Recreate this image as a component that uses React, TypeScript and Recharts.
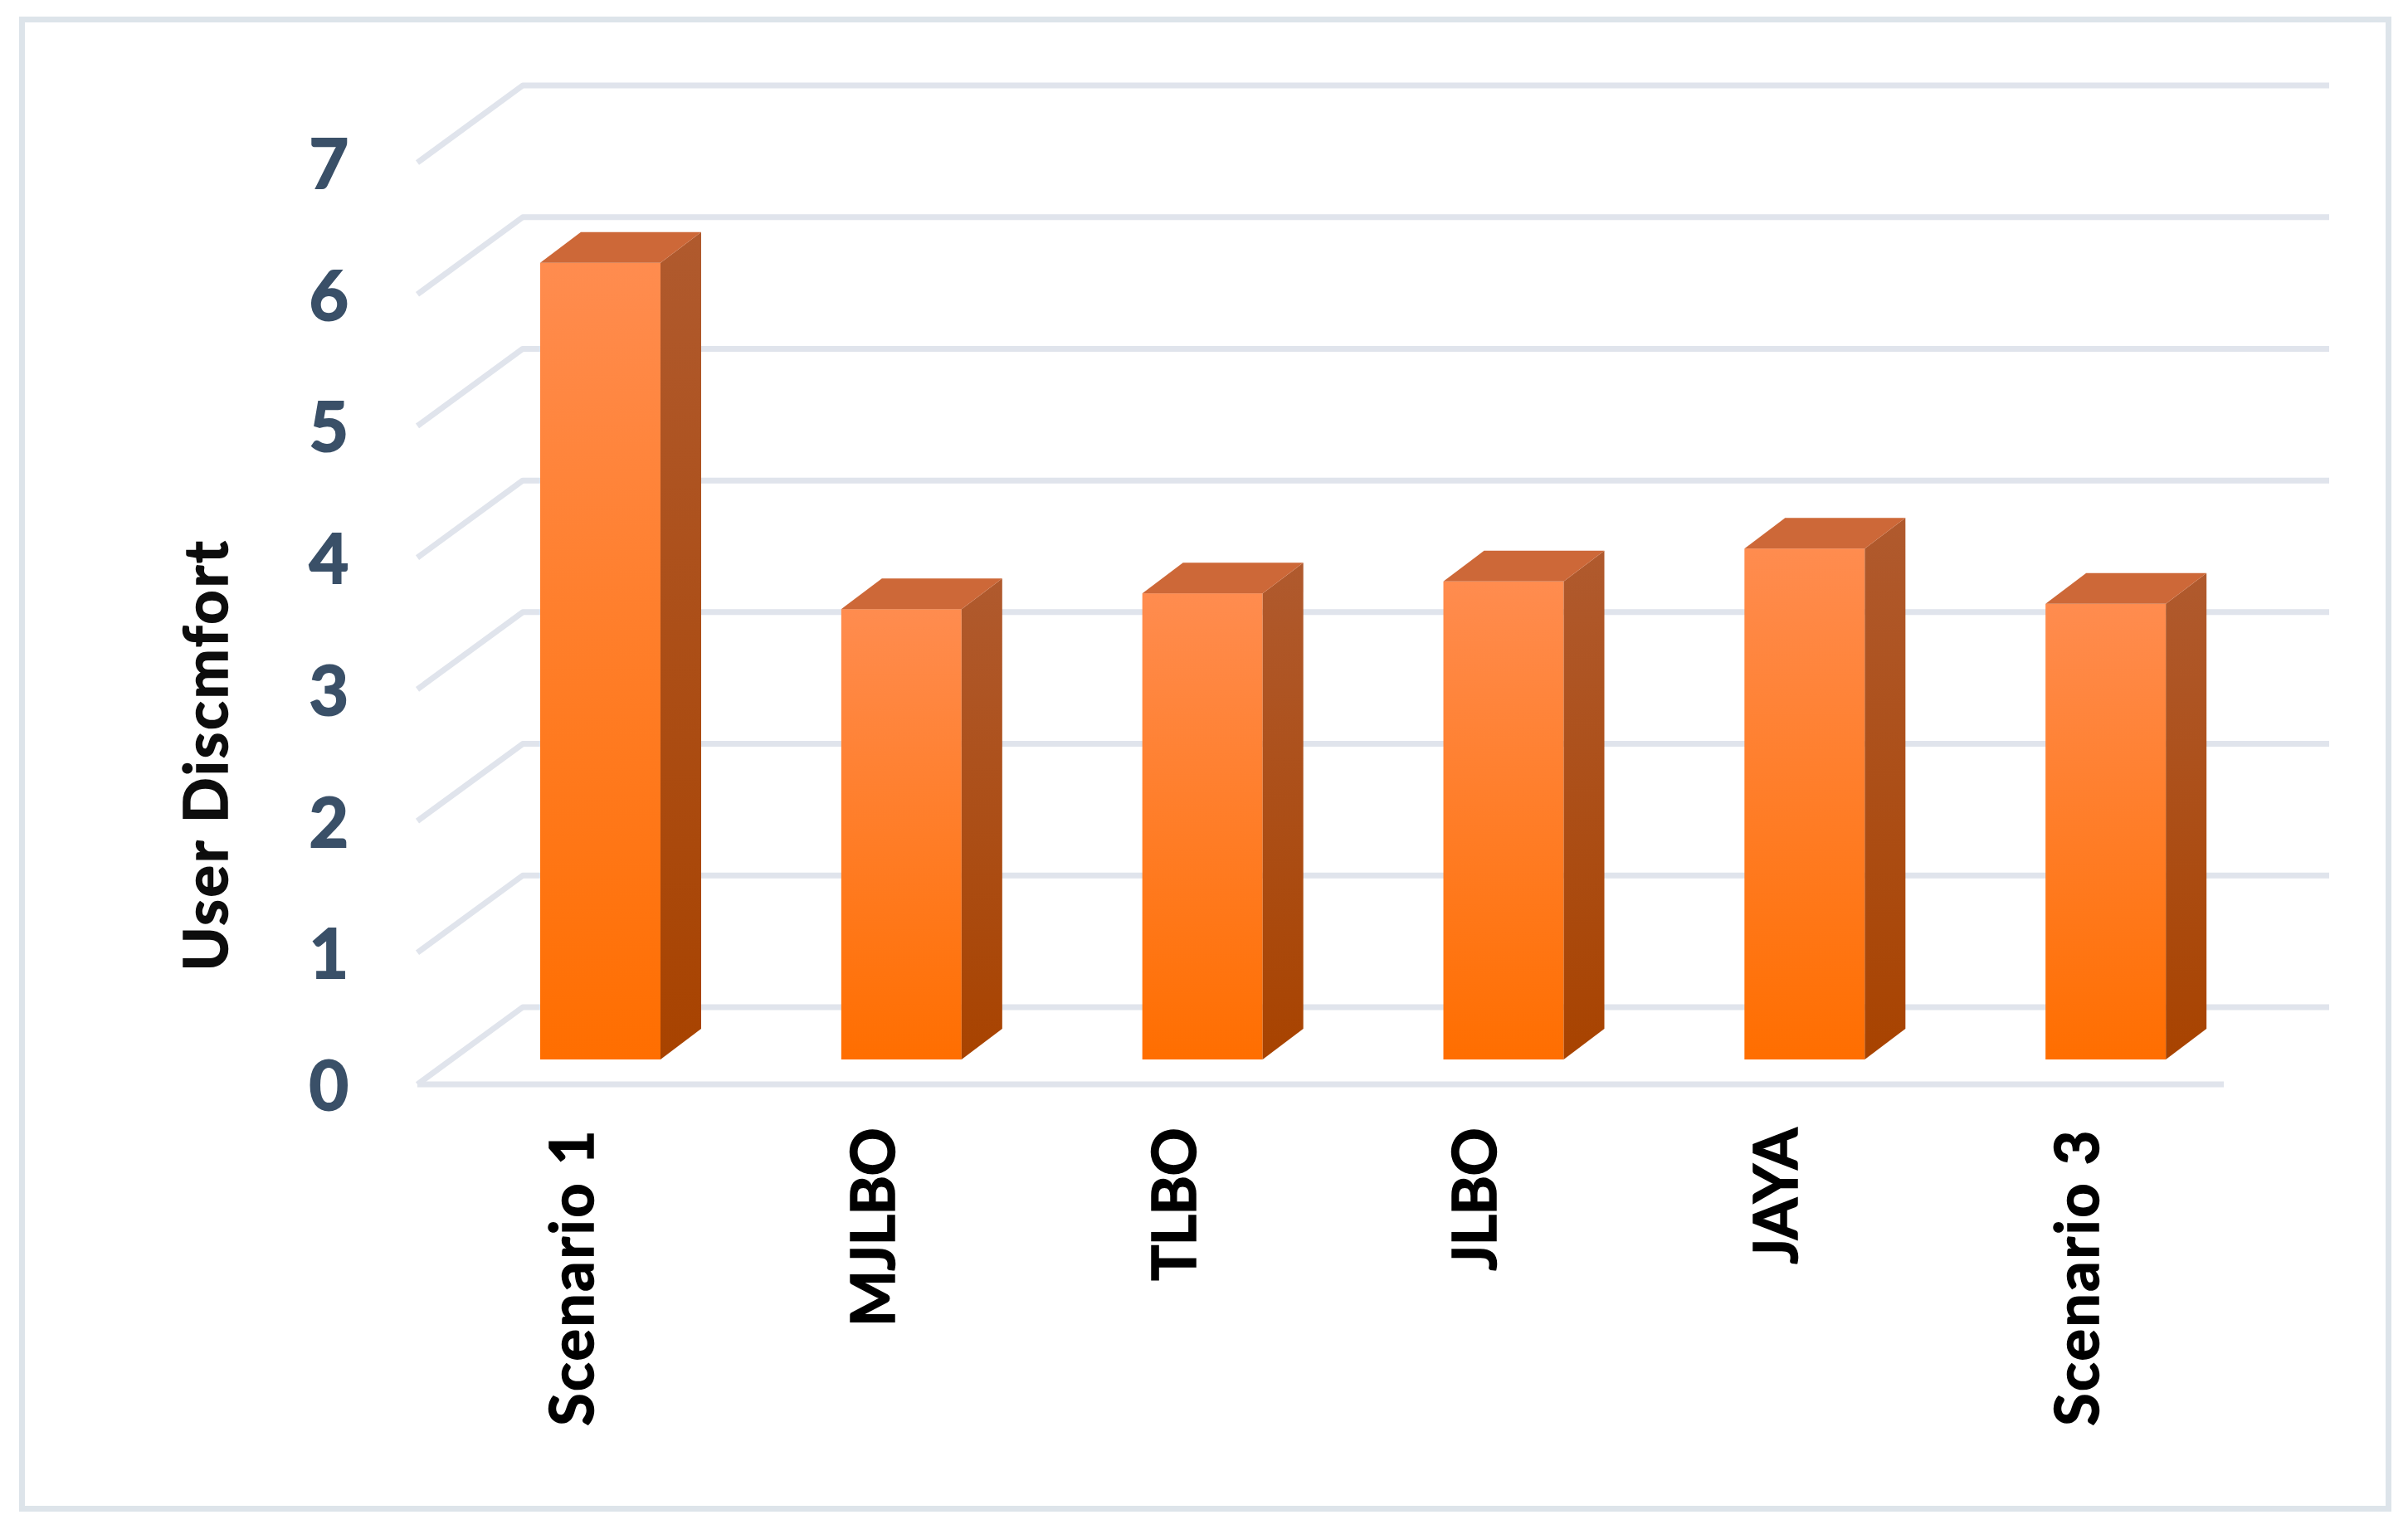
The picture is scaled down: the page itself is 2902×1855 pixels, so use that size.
import React from 'react';
import { BarChart, Bar, XAxis, YAxis, CartesianGrid, Label } from 'recharts';

const categories = ['Scenario 1', 'MJLBO', 'TLBO', 'JLBO', 'JAYA', 'Scenario 3'];
const discomfort = [6.05, 3.42, 3.54, 3.63, 3.88, 3.46];
const yTicks = [0, 1, 2, 3, 4, 5, 6, 7];

const chartData = categories.map((name, i) => ({ name, value: discomfort[i] }));

const W = 2902;
const H = 1855;
const FONT = 'Lato, "Open Sans", sans-serif';

// pseudo 3D: the bars stand on a plane between the front and back walls
const BAR_DX = 49;
const BAR_DY = 37;
const BACK_DX = 88;
const BACK_DY = 63;
const FRONT_DX = 39;
const FRONT_DY = 30;
const GRID = '#e0e4ec';
const FLOOR_Y = H - 578;

const GridLine = (props: any) => {
  const { x1, x2, y1 } = props;
  const pts = [
    `${x1 - FRONT_DX},${y1 + FRONT_DY}`,
    `${x1 + BACK_DX},${y1 - BACK_DY}`,
    `${x2 + BACK_DX},${y1 - BACK_DY}`,
  ].join(' ');
  return (
    <g>
      <polyline points={pts} fill="none" stroke={GRID} strokeWidth={7} strokeLinejoin="round" />
      {Math.abs(y1 - FLOOR_Y) < 1 && (
        <line x1={x1 - FRONT_DX} y1={y1 + FRONT_DY} x2={x2 - FRONT_DX} y2={y1 + FRONT_DY} stroke={GRID} strokeWidth={7} />
      )}
    </g>
  );
};

const Box3D = (props: any) => {
  const { x, y, width, height } = props;
  const r = x + width;
  const b = y + height;
  return (
    <g>
      <rect x={x} y={y} width={width} height={height} fill="url(#frontFace)" />
      <polygon
        points={`${r},${y} ${r + BAR_DX},${y - BAR_DY} ${r + BAR_DX},${b - BAR_DY} ${r},${b}`}
        fill="url(#sideFace)"
      />
      <polygon
        points={`${x},${y} ${x + BAR_DX},${y - BAR_DY} ${r + BAR_DX},${y - BAR_DY} ${r},${y}`}
        fill="#cd6838"
      />
    </g>
  );
};

const YTick = ({ x, y, payload }: any) => (
  <text
    x={x}
    y={y + FRONT_DY + 31}
    textAnchor="end"
    fontFamily={FONT}
    fontWeight={700}
    fontSize={82}
    fill="#3a5068"
    stroke="#3a5068"
    strokeWidth={2}
  >
    {payload.value}
  </text>
);

// Lato's lowercase runs narrower than the caps here, so open those labels up a bit
const XTick = ({ x, y, payload }: any) => (
  <text
    transform={`translate(${x - 8.5},${y}) rotate(-90)`}
    textAnchor="end"
    fontFamily={FONT}
    fontWeight={700}
    fontSize={72}
    letterSpacing={/[a-z]/.test(payload.value) ? 2.4 : -0.6}
    fill="#000"
    stroke="#000"
    strokeWidth={1.5}
  >
    {payload.value}
  </text>
);

const AxisTitle = () => (
  <text
    transform="translate(274,910) rotate(-90)"
    textAnchor="middle"
    fontFamily={FONT}
    fontWeight={700}
    fontSize={72}
    letterSpacing={2.7}
    fill="#0d0d0d"
    stroke="#0d0d0d"
    strokeWidth={1.5}
  >
    User Discmfort
  </text>
);

export default function App() {
  return (
    <div style={{ position: 'absolute', left: 0, top: 0, width: W, height: H, background: '#fff' }}>
      <div
        style={{
          position: 'absolute',
          left: 23,
          top: 20,
          width: 2859,
          height: 1802,
          boxSizing: 'border-box',
          border: '7px solid #dde4ea',
        }}
      />
      <div style={{ position: 'absolute', left: 0, top: 0 }}>
        <BarChart
          width={W}
          height={H}
          data={chartData}
          margin={{ top: 166, right: 183, bottom: 0, left: 422 }}
          barCategoryGap={0}
        >
          <defs>
            <linearGradient id="frontFace" x1="0" y1="0" x2="0" y2="1">
              <stop offset="0%" stopColor="#ff8c4f" />
              <stop offset="100%" stopColor="#ff6e00" />
            </linearGradient>
            <linearGradient id="sideFace" x1="0" y1="0" x2="0" y2="1">
              <stop offset="0%" stopColor="#b05a2e" />
              <stop offset="100%" stopColor="#a84300" />
            </linearGradient>
          </defs>
          <CartesianGrid vertical={false} horizontal={(p: any) => <GridLine key={p.key ?? p.y1} {...p} />} />
          <XAxis
            dataKey="name"
            interval={0}
            height={578}
            axisLine={false}
            tickLine={false}
            tickMargin={77}
            tick={<XTick />}
          />
          <YAxis
            domain={[0, 7]}
            ticks={yTicks}
            width={120}
            axisLine={false}
            tickLine={false}
            tickSize={0}
            tickMargin={122}
            tick={<YTick />}
          >
            <Label content={<AxisTitle />} />
          </YAxis>
          <Bar dataKey="value" barSize={145} shape={<Box3D />} isAnimationActive={false} />
        </BarChart>
      </div>
    </div>
  );
}
